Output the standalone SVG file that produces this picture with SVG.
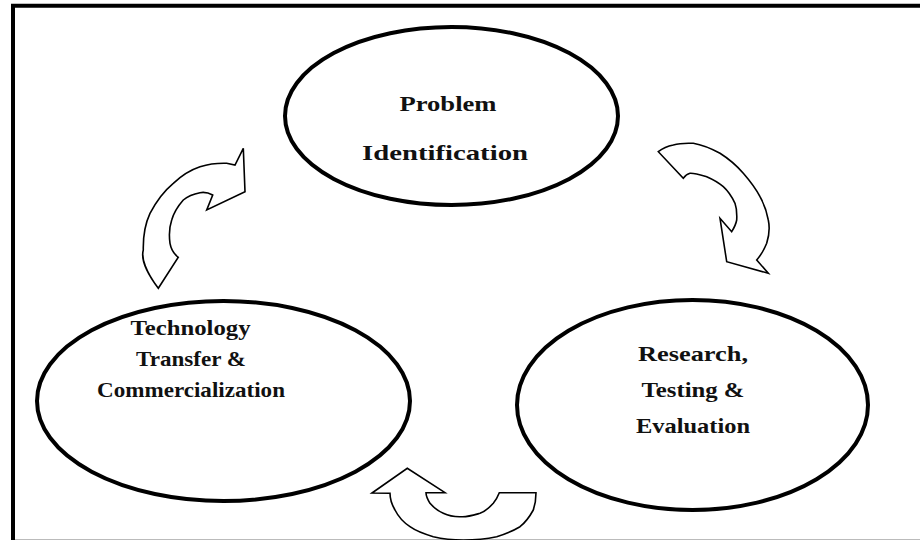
<svg xmlns="http://www.w3.org/2000/svg" width="920" height="540" viewBox="0 0 920 540">
<style>
.node ellipse{fill:#fff;stroke:#000;stroke-width:4}
.lbl{font-family:"Liberation Serif","Times New Roman",serif;font-weight:bold;font-size:21px;fill:#111;text-anchor:middle}
.arrow{fill:#fff;stroke:#000;stroke-width:1.6;stroke-linejoin:miter}
</style>
<rect x="0" y="0" width="920" height="540" fill="#fff"/>
<path d="M13 540 V5.7 H920" fill="none" stroke="#000" stroke-width="4"/>
<line x1="15" y1="539.5" x2="920" y2="539.5" stroke="#bbb" stroke-width="1"/>
<g id="node-problem" class="node">
<ellipse cx="451.5" cy="116" rx="166.5" ry="89"/>
<text class="lbl" x="448" y="111" textLength="97" lengthAdjust="spacingAndGlyphs">Problem</text>
<text class="lbl" x="445" y="160" textLength="166" lengthAdjust="spacingAndGlyphs">Identification</text>
</g>
<g id="node-transfer" class="node">
<ellipse cx="223.5" cy="401" rx="186.5" ry="100"/>
<text class="lbl" x="190.5" y="335" textLength="120" lengthAdjust="spacingAndGlyphs">Technology</text>
<text class="lbl" x="191" y="366" textLength="110" lengthAdjust="spacingAndGlyphs">Transfer &amp;</text>
<text class="lbl" x="191" y="397" textLength="188" lengthAdjust="spacingAndGlyphs">Commercialization</text>
</g>
<g id="node-research" class="node">
<ellipse cx="692.5" cy="405" rx="175.5" ry="105"/>
<text class="lbl" x="693" y="361" textLength="110" lengthAdjust="spacingAndGlyphs">Research,</text>
<text class="lbl" x="693" y="397" textLength="103" lengthAdjust="spacingAndGlyphs">Testing &amp;</text>
<text class="lbl" x="693" y="433" textLength="114" lengthAdjust="spacingAndGlyphs">Evaluation</text>
</g>
<g id="connectors">
<path class="arrow" d="M158.3 288.3 C146 272 141 258 143.3 250 C143 236 145 224 150 213.3 C157 200 164 191 173.3 183.3 C181 176 190 170 200 166.7 C209 164 218 163 226.7 163.3 L235 165 L243.3 148.3 L245 191.7 L206.7 210 L212.7 195 C209 193 204 192 200 192.7 C193 194 188 196 183.3 200 C178 206 174 212 171.7 220 C169 228 169 236 170 243.3 C171 249 174 254 178.3 257.3 Z"/>
<path class="arrow" d="M658.3 151.7 C663 148 668 146 673.3 145 C680 143 687 143 693.3 143.3 C703 145 712 149 720 153.3 C729 159 737 166 743.3 173.3 C750 181 756 189 760 196.7 C764 204 767 212 768.3 220 C770 228 769 236 766.7 243.3 C764 250 761 255 756.7 260 L768.3 273.3 L726.7 261.7 L720 218.3 L731.7 231.7 C734 228 736 224 736.7 220 C737 214 737 209 735 203.3 C732 197 728 191 723.3 186.7 C718 182 712 179 706.7 176.7 C701 175 695 173 690 173.3 C687 174 685 176 683.3 178.3 Z"/>
<path class="arrow" d="M372 493 L407.3 468.3 L445 492.7 L426 492.7 C426 496 428 500 430 503.3 C434 508 438 511 443.3 513.3 C449 516 455 517 461.7 516.7 C468 517 474 515 480 513.3 C486 511 490 507 493.3 503.3 C496 500 498 496 499.3 492.7 L536 492.7 C536 499 535 505 533.3 510 C530 516 526 522 520 526.7 C513 531 505 534 496.7 536.7 C486 539 475 540 463.3 540 C453 540 443 539 433.3 536.7 C424 534 416 531 410 526.7 C403 522 398 516 395 510 C392 505 390 499 390 493.3 Z"/>
</g>
</svg>
